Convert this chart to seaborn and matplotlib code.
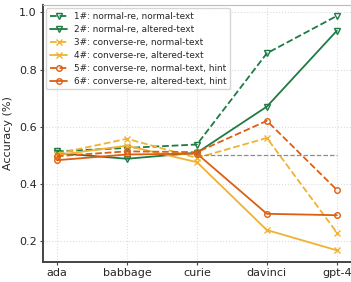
import matplotlib
matplotlib.use('Agg')
import matplotlib.pyplot as plt
import seaborn as sns
import pandas as pd

models = ['ada', 'babbage', 'curie', 'davinci', 'gpt-4']
labels = ['1#: normal-re, normal-text',
          '2#: normal-re, altered-text',
          '3#: converse-re, normal-text',
          '4#: converse-re, altered-text',
          '5#: converse-re, normal-text, hint',
          '6#: converse-re, altered-text, hint']
s1 = [0.513, 0.525, 0.537, 0.857, 0.988]
s2 = [0.507, 0.487, 0.508, 0.670, 0.936]
s3 = [0.505, 0.557, 0.490, 0.560, 0.228]
s4 = [0.500, 0.533, 0.475, 0.237, 0.166]
s5 = [0.496, 0.513, 0.510, 0.620, 0.378]
s6 = [0.482, 0.502, 0.505, 0.294, 0.289]
series = [s1, s2, s3, s4, s5, s6]

green = '#1e7b45'
yellow = '#f0b232'
orange = '#dc5f12'
colors = [green, green, yellow, yellow, orange, orange]
markers = ['v', 'v', 'x', 'x', 'o', 'o']
styles = ['--', '-', '--', '-', '--', '-']

sns.set_style('white')
plt.rcParams['font.family'] = ['DejaVu Sans']

fig = plt.figure(figsize=(3.51, 2.82), dpi=100)
ax = fig.add_axes([0.1225, 0.071, 0.877, 0.911])

pos = list(range(len(models)))
for lab, vals, c, m, ls in zip(labels, series, colors, markers, styles):
    df = pd.DataFrame({'x': pos, 'y': vals})
    sns.lineplot(data=df, x='x', y='y', ax=ax, color=c, linestyle=ls, linewidth=1.3,
                 marker=m, markersize=4, markerfacecolor='none', markeredgecolor=c,
                 markeredgewidth=1.0, label=lab)

ax.hlines(0.5, 2, 4, colors='#8c8c8c', linestyles='--', linewidth=0.9)

ax.set_xlim(-0.2, 4.2)
ax.set_ylim(0.125, 1.026)
ax.set_xticks(pos)
ax.set_xticklabels(models)
ax.set_yticks([0.2, 0.4, 0.6, 0.8, 1.0])
ax.set_yticklabels(['0.2', '0.4', '0.6', '0.8', '1.0'])
ax.set_xlabel('')
ax.set_ylabel('Accuracy (%)', fontsize=8)
ax.tick_params(labelsize=8, length=2.5, width=0.8, pad=2, left=True, bottom=True, color='#444444')
ax.grid(True, linestyle=':', color='#dddddd', linewidth=0.8)
for side in ['left', 'bottom']:
    ax.spines[side].set_color('#444444')
    ax.spines[side].set_linewidth(1.4)
for side in ['top', 'right']:
    ax.spines[side].set_color('#bbbbbb')
    ax.spines[side].set_linewidth(0.8)

ax.legend(loc='upper left', fontsize=6.4, frameon=True, handlelength=2.0,
          borderpad=0.4, labelspacing=0.45, handletextpad=0.7, borderaxespad=0.35,
          edgecolor='#cccccc', fancybox=True)

fig.savefig('out.png', dpi=100)
